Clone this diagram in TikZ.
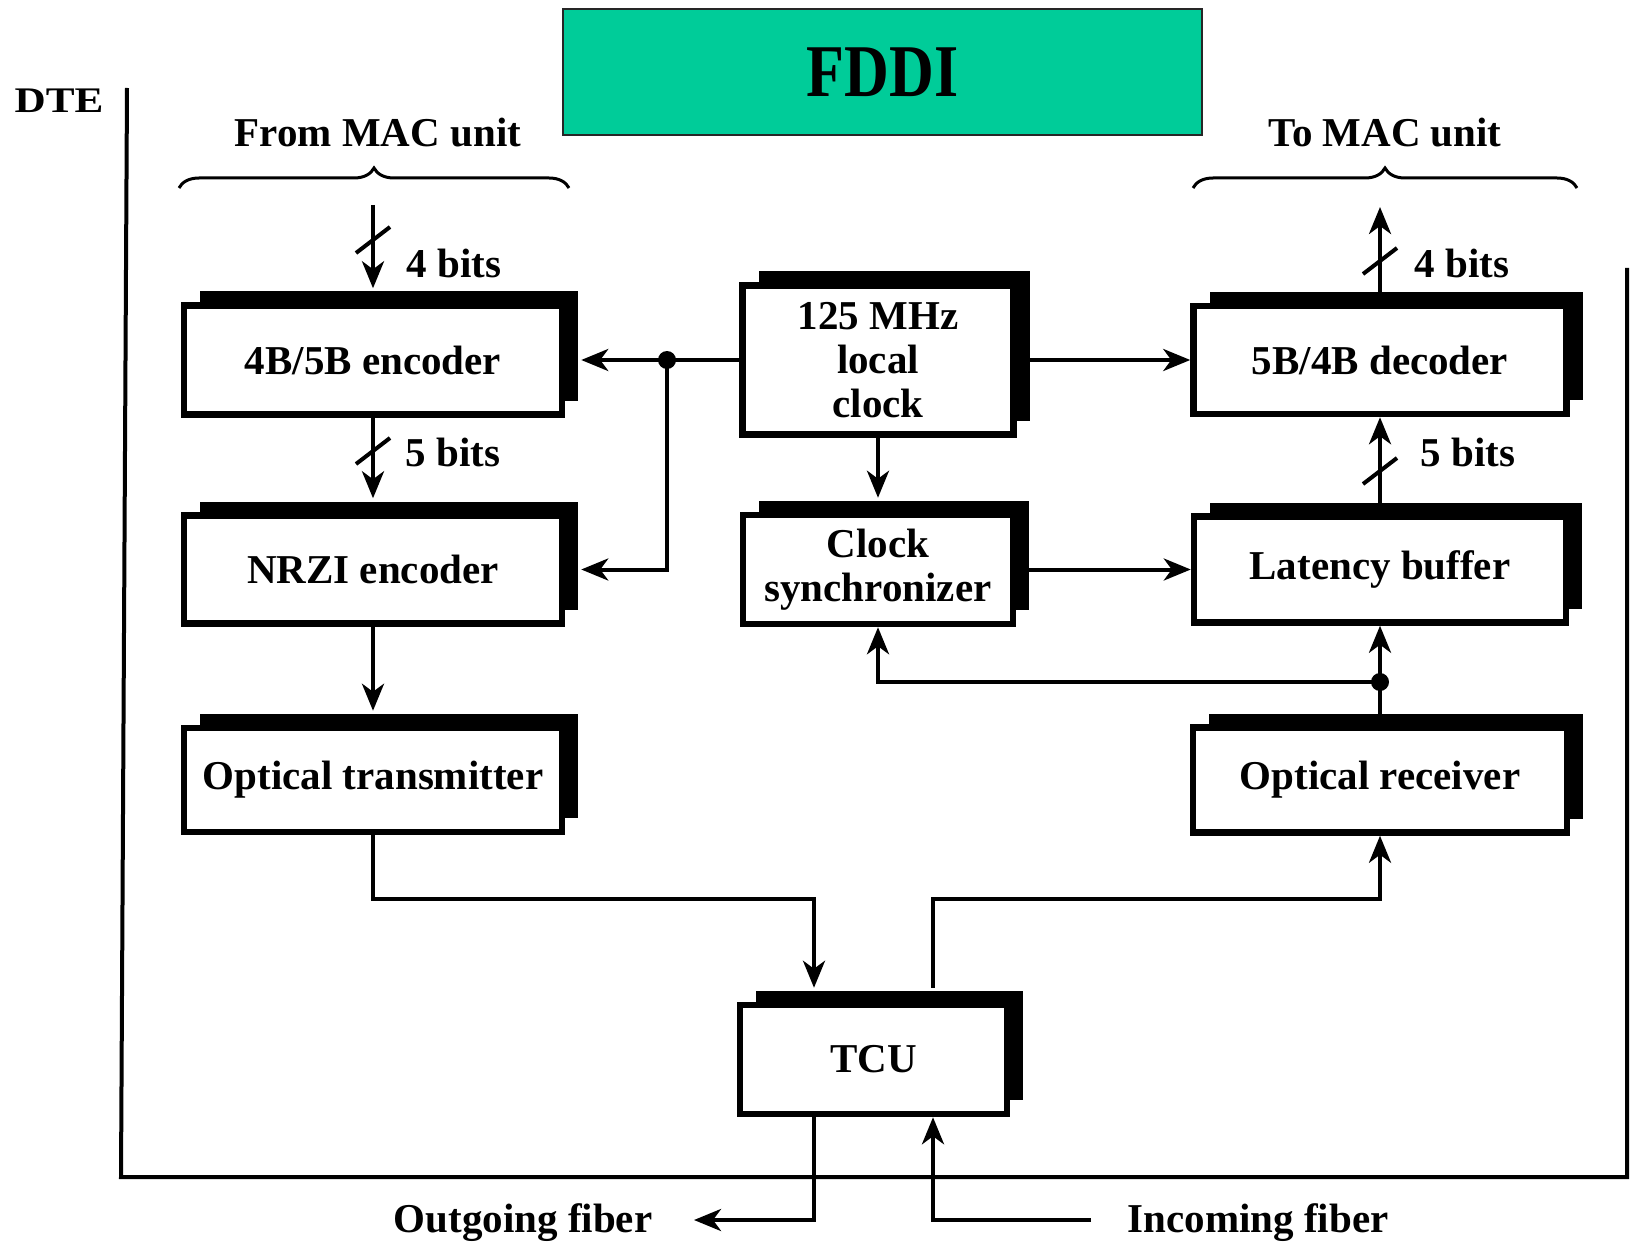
\documentclass[tikz,border=0pt]{standalone}
\usepackage{fontspec}
\setmainfont{Liberation Serif}
\usetikzlibrary{arrows.meta,shadows,decorations.pathreplacing}
\definecolor{fddi}{RGB}{0,204,153}
\begin{document}
\begin{tikzpicture}[x=1pt,y=-1pt,
  blk/.style={draw, line width=6.5pt, fill=white, rectangle, align=center, inner sep=0pt,
     font=\fontsize{41}{44}\selectfont\bfseries,
     drop shadow={shadow xshift=16pt, shadow yshift=14pt, opacity=1, fill=black}},
  conn/.style={line width=4pt},
  arr/.style={conn, -{Stealth[length=27pt,width=22pt,inset=8pt]}},
  lbl/.style={font=\fontsize{41}{44}\selectfont\bfseries, inner sep=0pt},
  slash/.style={line width=4pt},
  dotn/.style={circle, fill=black, inner sep=0pt, minimum size=18pt},
]
\useasboundingbox[fill=white] (0,0) rectangle (1630,1249);

% title
\node[draw=black!85, line width=2pt, fill=fddi, minimum width=639pt, minimum height=126pt, inner sep=0pt] (title) at (882.5,72)
  {\fontsize{62}{62}\selectfont\bfseries\scalebox{1}[1.2]{FDDI}};

% labels
\node[lbl, anchor=base] (dte) at (59,113) {\fontsize{36}{38}\selectfont\scalebox{1.2}[1]{DTE}};
\node[lbl, anchor=base] (from) at (378,147) {From MAC unit};
\node[lbl, anchor=base] (to) at (1385,147) {To MAC unit};

% DTE frame
\draw[line width=4pt] (127,88) -- (121,1177) -- (1627,1177) -- (1627,268);

% braces
\draw[line width=3pt, decorate, decoration={brace, amplitude=20pt}] (179,188) -- (569,188);
\draw[line width=3pt, decorate, decoration={brace, amplitude=20pt}] (1193,188) -- (1577,188);

% boxes
\node[blk, minimum width=378pt, minimum height=109pt] (enc)  at (373,360) {4B/5B encoder};
\node[blk, minimum width=378pt, minimum height=108pt] (nrzi) at (373,569.5) {NRZI encoder};
\node[blk, minimum width=378pt, minimum height=104pt] (otx)  at (373,780) {Optical transmitter};
\node[blk, minimum width=271pt, minimum height=149pt] (clk)  at (878,360) {125 MHz\\local\\clock};
\node[blk, minimum width=270pt, minimum height=109pt] (sync) at (878,569.5) {Clock\\synchronizer};
\node[blk, minimum width=373pt, minimum height=108pt] (dec)  at (1380,360) {5B/4B decoder};
\node[blk, minimum width=372pt, minimum height=106pt] (lat)  at (1380,569.5) {Latency buffer};
\node[blk, minimum width=374pt, minimum height=105pt] (orx)  at (1380,780) {Optical receiver};
\node[blk, minimum width=267pt, minimum height=109pt] (tcu)  at (873.5,1059.5) {TCU};

% bit labels
\node[lbl, anchor=base] (b4l) at (454,278) {4 bits};
\node[lbl, anchor=base] (b5l) at (453,466) {5 bits};
\node[lbl, anchor=base] (b4r) at (1462,278) {4 bits};
\node[lbl, anchor=base] (b5r) at (1468,466) {5 bits};

% fiber labels
\node[lbl, anchor=base] (outg) at (523,1232) {Outgoing fiber};
\node[lbl, anchor=base] (inc) at (1258,1232) {Incoming fiber};

% helper coordinates
\coordinate (inL) at (373,205);
\coordinate (outR) at (1380,207);
\coordinate (tcuTop) at ([yshift=14pt]tcu.north);
\coordinate (c1) at (373,899);
\coordinate (c2) at (814,899);
\coordinate (c3) at (933,899);
\coordinate (c4) at (1380,899);
\coordinate (outTip) at (694,1220);
\coordinate (inStart) at (1091,1220);

% dots
\node[dotn] (d1) at (667,360) {};
\node[dotn] (d2) at (1380,682) {};

% connectors
\draw[arr] (inL) -- ([yshift=14pt]enc.north);
\draw[arr] (enc.south) -- ([yshift=14pt]nrzi.north);
\draw[arr] (nrzi.south) -- ([yshift=14pt]otx.north);
\draw[conn] (clk.west) -- (d1.center);
\draw[arr] (d1.center) -- ([xshift=16pt]enc.east);
\draw[arr] (d1.center) |- ([xshift=16pt]nrzi.east);
\draw[arr] (clk.east) -- (dec.west);
\draw[arr] (clk.south) -- ([yshift=14pt]sync.north);
\draw[arr] (sync.east) -- (lat.west);
\draw[conn] (orx.north) -- (d2.center);
\draw[arr] (d2.center) -- (lat.south);
\draw[arr] (d2.center) -| (sync.south);
\draw[arr] (lat.north) -- (dec.south);
\draw[arr] (dec.north) -- (outR);
\draw[arr] (otx.south) -- (c1) -- (c2) -- (c2 |- tcuTop);
\draw[arr] (c3 |- tcuTop) -- (c3) -- (c4) -- (orx.south);
\draw[arr] ([xshift=-59.5pt]tcu.south) |- (outTip);
\draw[arr] (inStart) -| ([xshift=59.5pt]tcu.south);

% bus slashes
\draw[slash] (356,253) -- (390,227);
\draw[slash] (356,464) -- (390,438);
\draw[slash] (1363,484) -- (1397,458);
\draw[slash] (1363,274) -- (1397,248);
\end{tikzpicture}
\end{document}
